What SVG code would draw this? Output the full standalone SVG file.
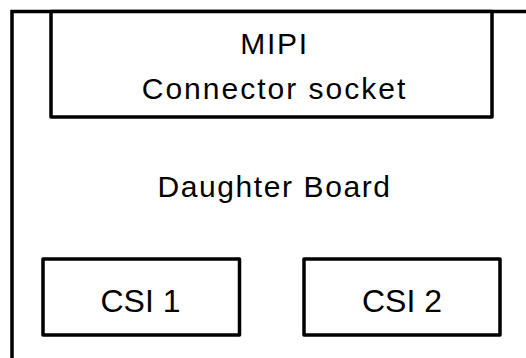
<svg xmlns="http://www.w3.org/2000/svg" width="526" height="358" viewBox="0 0 526 358">
<style>
.box{fill:#fff;stroke:#000;stroke-width:3.5;stroke-linejoin:round}
.t{font-family:"Liberation Sans",Arial,sans-serif;fill:#000;text-anchor:middle}
</style>
<rect width="526" height="358" fill="#fff"/>
<g id="daughter-board">
<path d="M12 370 V11.5 H540" fill="none" stroke="#000" stroke-width="3.5"/>
<text class="t" x="274.5" y="197" font-size="30" letter-spacing="1.6">Daughter Board</text>
</g>
<g id="mipi">
<rect class="box" x="51" y="11.5" width="441" height="105.5"/>
<text class="t" x="274.5" y="54.3" font-size="30" letter-spacing="1.7">MIPI</text>
<text class="t" x="274.5" y="99" font-size="30" letter-spacing="2">Connector socket</text>
</g>
<g id="csi1">
<rect class="box" x="43" y="259" width="196.5" height="76"/>
<text class="t" x="140.5" y="311.5" font-size="32">CSI 1</text>
</g>
<g id="csi2">
<rect class="box" x="304" y="259" width="196" height="76"/>
<text class="t" x="402" y="311.5" font-size="32">CSI 2</text>
</g>
<g id="connectors"/>
</svg>
